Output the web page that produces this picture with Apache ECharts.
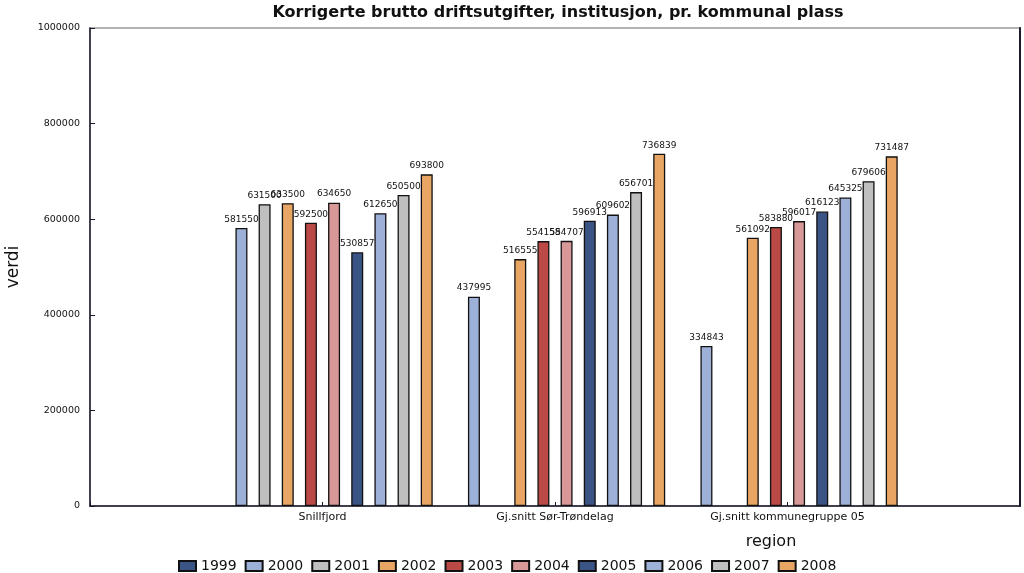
<!DOCTYPE html>
<html>
<head>
<meta charset="utf-8">
<script src="https://cdn.jsdelivr.net/npm/echarts@6/dist/echarts.min.js"></script>
<style>
html,body{margin:0;padding:0;background:#fff;}
#c{width:1024px;height:573px;}
</style>
</head>
<body>
<div id="c"></div>
<script>
const categories = ['', 'Snillfjord', 'Gj.snitt Sør-Trøndelag', 'Gj.snitt kommunegruppe 05', ''];
const years = ['1999','2000','2001','2002','2003','2004','2005','2006','2007','2008'];
const v1999 = ['-', '-', '-', '-', '-'];
const v2000 = ['-', 581550, 437995, 334843, '-'];
const v2001 = ['-', 631500, '-', '-', '-'];
const v2002 = ['-', 633500, 516555, 561092, '-'];
const v2003 = ['-', 592500, 554158, 583880, '-'];
const v2004 = ['-', 634650, 554707, 596017, '-'];
const v2005 = ['-', 530857, 596913, 616123, '-'];
const v2006 = ['-', 612650, 609602, 645325, '-'];
const v2007 = ['-', 650500, 656701, 679606, '-'];
const v2008 = ['-', 693800, 736839, 731487, '-'];
const yTicks = [0, 200000, 400000, 600000, 800000, 1000000];

const values = [v1999, v2000, v2001, v2002, v2003, v2004, v2005, v2006, v2007, v2008];
const colors = ['#3b5486','#9db0d8','#bfbfbf','#e8a563','#bb4a47','#d99898','#3b5486','#9db0d8','#bfbfbf','#e8a563'];

const chart = echarts.init(document.getElementById('c'));
const series = years.map((y, i) => ({
  name: y,
  type: 'bar',
  data: values[i],
  barWidth: 12,
  barGap: '93%',
  itemStyle: { color: colors[i], borderColor: '#111', borderWidth: 1.3 },
  label: {
    show: true, position: 'top', distance: 4,
    fontFamily: 'DejaVu Sans', fontSize: 9, color: '#111'
  }
}));

chart.setOption({
  animation: false,
  backgroundColor: '#fff',
  color: colors,
  title: {
    text: 'Korrigerte brutto driftsutgifter, institusjon, pr. kommunal plass',
    left: 553, textAlign: 'center', top: 0,
    textStyle: { fontFamily: 'DejaVu Sans', fontWeight: 'bold', fontSize: 16, color: '#111' }
  },
  grid: {
    left: 90, right: 4, top: 28, bottom: 67,
    outerBoundsMode: 'none',
    containLabel: false,
    show: true, borderColor: '#999', borderWidth: 1.5, backgroundColor: '#fff'
  },
  legend: {
    top: 554, left: 173,
    icon: 'rect',
    itemWidth: 17, itemHeight: 10, itemGap: 8,
    textStyle: { fontFamily: 'DejaVu Sans', fontSize: 14, color: '#111' },
    data: years
  },
  xAxis: {
    type: 'category',
    data: categories,
    boundaryGap: false,
    name: 'region',
    nameLocation: 'middle',
    nameGap: 28,
    nameTextStyle: { fontFamily: 'DejaVu Sans', fontSize: 16, color: '#111', padding: [0, 0, 0, 432] },
    axisLine: { lineStyle: { color: '#1a1a2e', width: 1.5 } },
    axisTick: { show: true, inside: true, length: 4, lineStyle: { color: '#1a1a2e' } },
    axisLabel: { fontFamily: 'DejaVu Sans', fontSize: 11, color: '#111', margin: 6 },
    splitLine: { show: false }
  },
  yAxis: [{
    type: 'value',
    min: 0, max: 1000000, interval: 200000,
    name: 'verdi',
    nameLocation: 'middle',
    nameGap: 68,
    nameRotate: 90,
    nameTextStyle: { fontFamily: 'DejaVu Sans', fontSize: 17, color: '#111' },
    axisLine: { show: true, lineStyle: { color: '#1a1a2e', width: 1.5 } },
    axisTick: { show: true, inside: true, length: 5, lineStyle: { color: '#1a1a2e' } },
    axisLabel: {
      fontFamily: 'DejaVu Sans', fontSize: 9.5, color: '#111', margin: 10,
      formatter: v => yTicks.includes(v) ? String(v) : ''
    },
    splitLine: { show: false }
  }, {
    type: 'value',
    min: 0, max: 1000000, interval: 200000,
    position: 'right',
    axisLine: { show: true, lineStyle: { color: '#1a1a2e', width: 2 } },
    axisTick: { show: false },
    axisLabel: { show: false },
    splitLine: { show: false }
  }],
  series: series
});
</script>
</body>
</html>
